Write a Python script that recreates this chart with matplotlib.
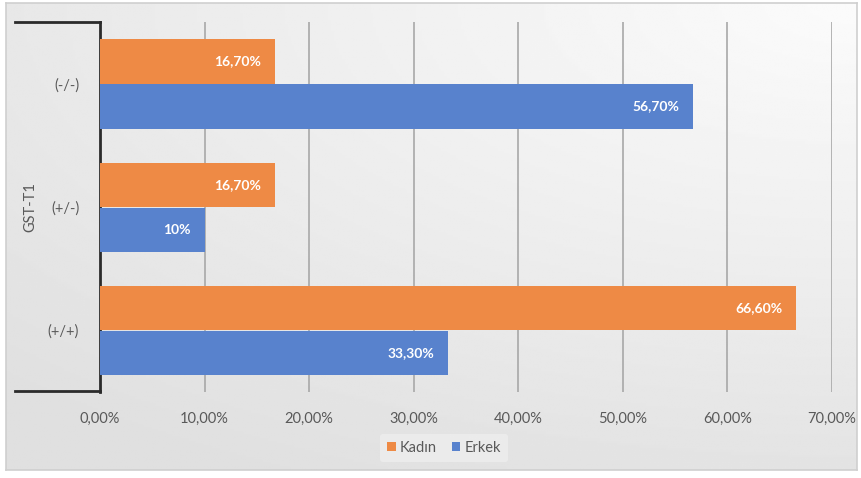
import numpy as np
import matplotlib
matplotlib.use("Agg")
import matplotlib.pyplot as plt
from matplotlib.lines import Line2D

# data
categories = ["(+/+)", "(+/-)", "(-/-)"]
kadin = [66.6, 16.7, 16.7]
erkek = [33.3, 10.0, 56.7]
kadin_labels = ["66,60%", "16,70%", "16,70%"]
erkek_labels = ["33,30%", "10%", "56,70%"]
xticks = [0, 10, 20, 30, 40, 50, 60, 70]
xtick_labels = ["0,00%", "10,00%", "20,00%", "30,00%", "40,00%", "50,00%", "60,00%", "70,00%"]
group_label = "GST-T1"

ORANGE = "#EE8A45"
BLUE = "#5882CD"
TXT = "#595959"
FONT = ["Lato", "DejaVu Sans"]

W, H = 862, 478
fig = plt.figure(figsize=(W / 100, H / 100), dpi=100)
fig.patch.set_facecolor("white")

# background gradient inside the chart frame
bg = fig.add_axes([6 / W, 1 - 470 / H, 851 / W, 467 / H])
yy, xx = np.mgrid[0:1:200j, 0:1:300j]
shade = 0.985 - 0.11 * np.clip(np.hypot((1 - xx) * 0.9, yy * 1.1) / 1.3, 0, 1)
bg.imshow(shade, cmap="gray", vmin=0, vmax=1, aspect="auto", extent=[0, 1, 0, 1])
bg.set_xticks([]); bg.set_yticks([])
for s in bg.spines.values():
    s.set_color("#CFCFCF"); s.set_linewidth(1.2)

# main plot
ax = fig.add_axes([100 / W, 1 - 392 / H, 732 / W, 370 / H])
ax.patch.set_alpha(0)
y = np.arange(len(categories))
h = 0.36
ax.barh(y + 0.18, kadin, height=h, color=ORANGE, label="Kadın", zorder=3)
ax.barh(y - 0.185, erkek, height=h, color=BLUE, label="Erkek", zorder=3)

for yi, v, t in zip(y, kadin, kadin_labels):
    ax.text(v - 1.3, yi + 0.18, t, ha="right", va="center", color="white",
            fontsize=10, fontweight="bold", family=FONT, zorder=4)
for yi, v, t in zip(y, erkek, erkek_labels):
    ax.text(v - 1.3, yi - 0.185, t, ha="right", va="center", color="white",
            fontsize=10, fontweight="bold", family=FONT, zorder=4)

ax.set_xlim(0, 70)
ax.set_ylim(-0.5, 2.5)
ax.set_xticks(xticks)
ax.set_xticklabels(xtick_labels, family=FONT, fontsize=10.5, color=TXT)
ax.set_yticks(y)
ax.set_yticklabels(categories, family=FONT, fontsize=10.5, color=TXT)
ax.tick_params(axis="x", length=0, pad=14)
ax.tick_params(axis="y", length=0, pad=15)
ax.grid(axis="x", color="#A8A8A8", linewidth=1.2, zorder=1)
for s in ["top", "right", "bottom"]:
    ax.spines[s].set_visible(False)
ax.spines["left"].set_color("#2B2B2B")
ax.spines["left"].set_linewidth(2)

# multi-level category bracket
for yp in (22, 391):
    fig.add_artist(Line2D([15 / W, 100 / W], [1 - yp / H, 1 - yp / H],
                          color="#2B2B2B", linewidth=2))
fig.text(30 / W, 1 - 207 / H, group_label, rotation=90, ha="center", va="center",
         fontsize=10.5, color=TXT, family=FONT)

leg = fig.legend(loc="center", bbox_to_anchor=(444 / W, 1 - 448 / H), ncol=2,
                 frameon=True, facecolor="#F2F2F2", edgecolor="none", framealpha=0.6,
                 handlelength=0.6, handleheight=0.6,
                 handletextpad=0.3, columnspacing=1.0, borderpad=0.5,
                 prop={"family": FONT, "size": 10.5})
for t in leg.get_texts():
    t.set_color(TXT)

fig.savefig("out.png", dpi=100)
